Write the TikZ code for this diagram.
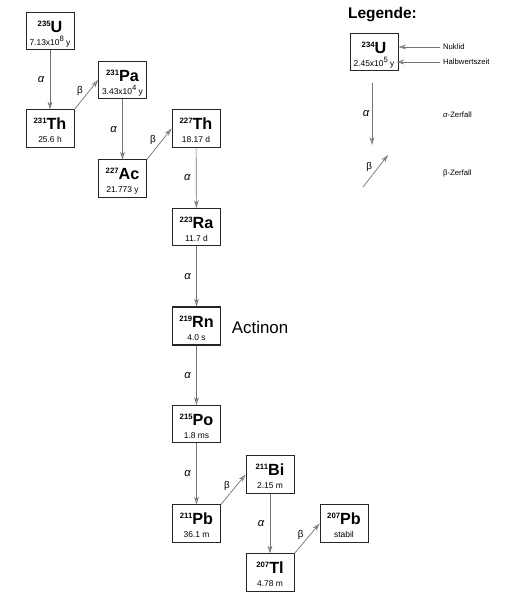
\documentclass[tikz,border=0pt]{standalone}
\usepackage{fontspec}
\setmainfont{Liberation Sans}
\usetikzlibrary{arrows.meta}
\newcommand{\iso}[2]{\rule{0pt}{12pt}\raisebox{4.3pt}{\fontsize{5.5}{6}\selectfont\bfseries #1}{\fontsize{11.5}{12}\selectfont\bfseries #2}}
\newcommand{\hl}[1]{{\fontsize{6}{7}\selectfont #1}\rule[-1.1pt]{0pt}{1.1pt}}
\newcommand{\ex}[1]{\raisebox{2.6pt}{\fontsize{5.5}{6}\selectfont #1}}
\tikzset{
  nuk/.style={draw=black!85, line width=0.6pt, minimum width=1.2cm, minimum height=0.93cm, inner sep=0pt, align=center, font=\fontsize{6}{9.2}\selectfont},
  decay/.style={draw=black!55, line width=0.5pt, -{Stealth[length=5.5pt,width=3.4pt,open]}},
  alab/.style={midway, xshift=-0.22cm, font=\fontsize{8}{8}\selectfont\itshape},
  blab/.style={midway, xshift=-0.16cm, yshift=0.09cm, font=\fontsize{7}{7}\selectfont},
  leg/.style={anchor=west, inner sep=2pt, font=\fontsize{5.5}{6}\selectfont}
}
\begin{document}
\begin{tikzpicture}[x=0.025cm,y=-0.025cm]
\useasboundingbox (0,0) rectangle (520,600);
% Zerfallsreihe
\node[nuk] (u235) at (50,31) {\iso{235}{U}\\\hl{7.13x10\ex{8} y}};
\node[nuk] (th231) at (50,128.5) {\iso{231}{Th}\\\hl{25.6 h}};
\node[nuk] (pa231) at (122.5,80) {\iso{231}{Pa}\\\hl{3.43x10\ex{4} y}};
\node[nuk] (ac227) at (122.5,178.5) {\iso{227}{Ac}\\\hl{21.773 y}};
\node[nuk] (th227) at (196,128.5) {\iso{227}{Th}\\\hl{18.17 d}};
\node[nuk] (ra223) at (196.5,227) {\iso{223}{Ra}\\\hl{11.7 d}};
\node[nuk, line width=1.4pt] (rn219) at (196.5,326) {\iso{219}{Rn}\\\hl{4.0 s}};
\node[anchor=west, font=\fontsize{12}{12}\selectfont] (actinon) at (227,327) {Actinon};
\node[nuk] (po215) at (196.5,424) {\iso{215}{Po}\\\hl{1.8 ms}};
\node[nuk] (pb211) at (196.5,523.5) {\iso{211}{Pb}\\\hl{36.1 m}};
\node[nuk] (bi211) at (270,474.5) {\iso{211}{Bi}\\\hl{2.15 m}};
\node[nuk] (tl207) at (270,572.5) {\iso{207}{Tl}\\\hl{4.78 m}};
\node[nuk] (pb207) at (344,523.5) {\iso{207}{Pb}\\\hl{stabil}};

\path[decay] (u235) -- node[alab] {α} (th231);
\path[decay] (th231.north east) -- node[blab] {β} (pa231.west);
\path[decay] (pa231) -- node[alab] {α} (ac227);
\path[decay] (ac227.north east) -- node[blab] {β} (th227.west);
\path[decay] (th227) -- node[alab] {α} (ra223);
\path[decay] (ra223) -- node[alab] {α} (rn219);
\path[decay] (rn219) -- node[alab] {α} (po215);
\path[decay] (po215) -- node[alab] {α} (pb211);
\path[decay] (pb211.north east) -- node[blab] {β} (bi211.west);
\path[decay] (bi211) -- node[alab] {α} (tl207);
\path[decay] (tl207.north east) -- node[blab] {β} (pb207.west);

% Legende
\node[font=\fontsize{11}{11}\selectfont\bfseries] (title) at (382.5,15) {Legende:};
\node[nuk] (u234) at (374,52) {\iso{234}{U}\\\hl{2.45x10\ex{5} y}};
\node[leg] (nuklid) at (440,47) {Nuklid};
\node[leg] (hwz) at (440,62) {Halbwertszeit};
\path[decay] (nuklid.west) -- (nuklid.west -| u234.east);
\path[decay] (hwz.west) -- ([xshift=-0.05cm]hwz.west -| u234.east);
\coordinate (la1) at (372,83);
\coordinate (la2) at (372,145);
\coordinate (lb1) at (363,187);
\coordinate (lb2) at (388,155);
\path[decay] (la1) -- node[alab, xshift=0.07cm] {α} (la2);
\path[decay] (lb1) -- node[blab] {β} (lb2);
\node[leg] (azerf) at (440,115) {\textit{α}-Zerfall};
\node[leg] (bzerf) at (440,173) {β-Zerfall};
\end{tikzpicture}
\end{document}
